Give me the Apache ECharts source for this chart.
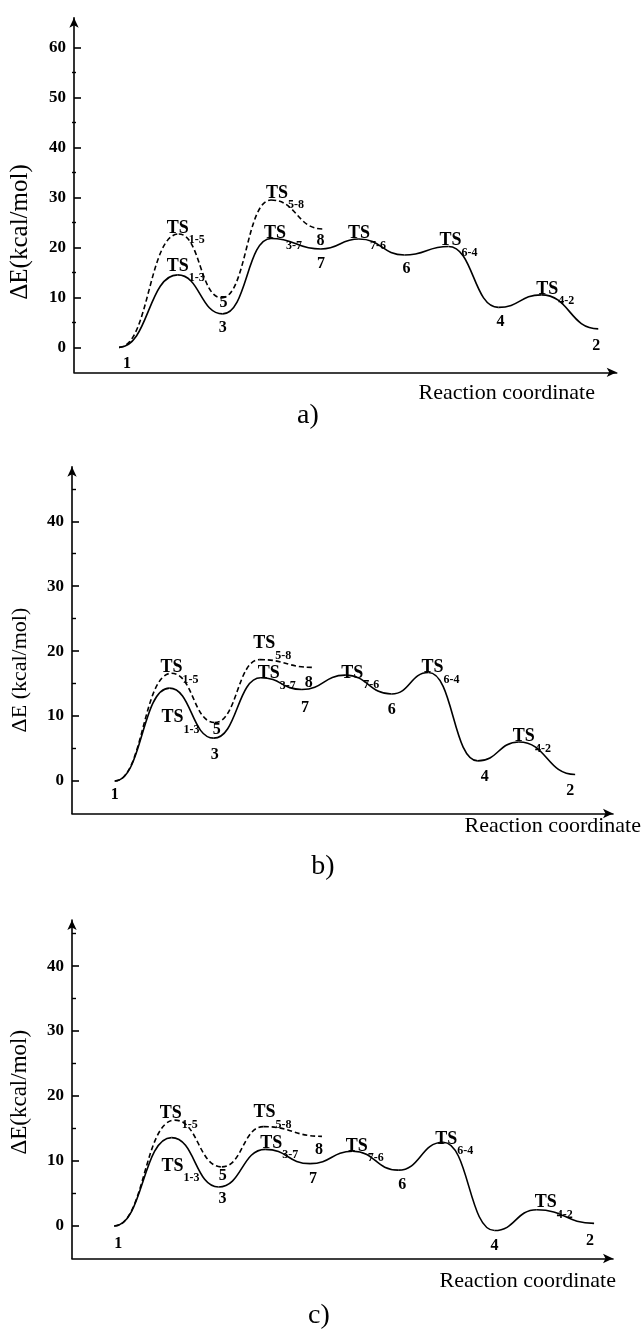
<!DOCTYPE html>
<html>
<head>
<meta charset="utf-8">
<script src="https://cdn.jsdelivr.net/npm/echarts@6/dist/echarts.min.js"></script>
<style>
  html, body { margin: 0; padding: 0; background: #fff; }
  #chart { width: 642px; height: 1330px; }
</style>
</head>
<body>
<div id="chart"></div>
<script>
// stationary points along the reaction coordinate (arbitrary units 0-100)
const solidNames = ['1', 'TS1-3', '3', 'TS3-7', '7', 'TS7-6', '6', 'TS6-4', '4', 'TS4-2', '2'];
const dashNames = ['1', 'TS1-5', '5', 'TS5-8', '8'];

// a)
const aSolidX = [8.3, 19.1, 27.4, 36.3, 45.5, 52.5, 60.9, 69.0, 78.2, 86.1, 96.6];
const aSolidE = [0, 14.5, 6.7, 21.8, 19.7, 21.7, 18.5, 20.2, 8.0, 10.5, 3.7];
const aDashX = [8.3, 19.3, 27.2, 36.3, 45.8];
const aDashE = [0, 22.7, 9.9, 29.5, 23.7];

// b)
const bSolidX = [7.9, 18.0, 26.2, 34.9, 42.5, 50.5, 59.1, 65.9, 75.0, 82.6, 93.0];
const bSolidE = [0, 14.3, 6.6, 15.9, 14.1, 16.3, 13.4, 16.7, 3.1, 6.0, 1.0];
const bDashX = [7.9, 18.4, 26.4, 34.7, 44.5];
const bDashE = [0, 16.6, 9.0, 18.7, 17.5];

// c)
const cSolidX = [7.8, 18.4, 27.1, 35.7, 44.0, 51.9, 60.3, 68.6, 78.1, 85.9, 96.5];
const cSolidE = [0, 13.6, 6.0, 11.8, 9.6, 11.5, 8.6, 12.9, -0.7, 2.5, 0.4];
const cDashX = [7.8, 19.0, 27.7, 35.4, 46.2];
const cDashE = [0, 16.3, 9.1, 15.3, 13.8];

// y tick labels
const aTicks = [0, 10, 20, 30, 40, 50, 60];
const aMinor = [5, 15, 25, 35, 45, 55];
const bcTicks = [0, 10, 20, 30, 40];
const bcMinor = [5, 15, 25, 35, 45];

const FONT = '"Liberation Serif", "Times New Roman", serif';
const SMOOTH = 0.5;  // control arm as part of segment width, tangents flat at every point

// label offsets (px) from each point
const offA = {
  '1': [8, 17], 'TS1-3': [-11, -9], '3': [0, 14], 'TS3-7': [-7, -5], '7': [0, 15],
  'TS7-6': [-11, -5.5], '6': [2, 14], 'TS6-4': [-9, -6], '4': [2, 14], 'TS4-2': [-5, -5.5],
  '2': [-2, 17], 'TS1-5': [-12, -6], '5': [2, 5], 'TS5-8': [-5, -7], '8': [-2, 12]
};
const offB = {
  '1': [0, 14], 'TS1-3': [-8, 29.5], '3': [1, 17], 'TS3-7': [-3, -4], '7': [3, 18],
  'TS7-6': [-4, -2], '6': [0, 16], 'TS6-4': [-7, -5], '4': [7, 16], 'TS4-2': [-6, -5.5],
  '2': [-5, 16], 'TS1-5': [-11, -5.5], '5': [2, 7.5], 'TS5-8': [-6.5, -16], '8': [-4, 15]
};
const offC = {
  '1': [4, 18], 'TS1-3': [-10, 28.5], '3': [4, 12], 'TS3-7': [-5, -6.5], '7': [3, 15],
  'TS7-6': [-7, -5], '6': [4, 15], 'TS6-4': [-8, -3], '4': [0, 15], 'TS4-2': [-2, -7],
  '2': [-4, 17], 'TS1-5': [-15, -7], '5': [1, 9], 'TS5-8': [-10, -14], '8': [-3, 14]
};

const rich = {
  t: { fontFamily: FONT, fontSize: 18, fontWeight: 'bold', color: '#000', lineHeight: 18, verticalAlign: 'top' },
  s: { fontFamily: FONT, fontSize: 12, fontWeight: 'bold', color: '#000', lineHeight: 12, padding: [15, 0, 0, 0], verticalAlign: 'top' },
  n: { fontFamily: FONT, fontSize: 16, fontWeight: 'bold', color: '#000' }
};

function makeLabel(name, off, hide) {
  if (hide) return { show: false };
  const isTS = name.indexOf('TS') === 0;
  return {
    show: true,
    position: 'inside',
    align: isTS ? 'left' : 'center',
    verticalAlign: 'middle',
    offset: off,
    opacity: 1,
    formatter: isTS ? '{t|TS}{s|' + name.slice(2) + '}' : '{n|' + name + '}',
    rich: rich
  };
}

// energy profile: one cubic per segment, flat at both stationary points
function curve(gi, xs, es, dashed) {
  const segs = xs.slice(1).map((x, i) => [xs[i], es[i], x, es[i + 1]]);
  return {
    type: 'custom',
    xAxisIndex: gi,
    yAxisIndex: gi,
    encode: { x: [0, 2], y: [1, 3] },
    data: segs,
    z: dashed ? 3 : 2,
    renderItem: function (params, api) {
      const p0 = api.coord([api.value(0), api.value(1)]);
      const p1 = api.coord([api.value(2), api.value(3)]);
      const h = (p1[0] - p0[0]) * SMOOTH;
      return {
        type: 'bezierCurve',
        shape: { x1: p0[0], y1: p0[1], x2: p1[0], y2: p1[1],
          cpx1: p0[0] + h, cpy1: p0[1], cpx2: p1[0] - h, cpy2: p1[1] },
        style: { stroke: '#000', fill: 'none', lineWidth: 1.6, lineDash: dashed ? [5, 3] : null }
      };
    }
  };
}

// invisible points that carry the labels
function labels(gi, xs, es, names, offs, skipFirst) {
  return {
    type: 'scatter',
    xAxisIndex: gi,
    yAxisIndex: gi,
    symbolSize: 1,
    itemStyle: { color: 'rgba(0,0,0,0)', opacity: 1 },
    z: 5,
    data: xs.map((x, i) => ({
      value: [x, es[i]],
      label: makeLabel(names[i], offs[names[i]], skipFirst && i === 0)
    }))
  };
}

// panel layout
const panels = [
  { top: 17.7, height: 354.6, width: 544.7, max: 66, ticks: aTicks, minor: aMinor,
    yName: 'ΔE(kcal/mol)', yNameSize: 25, yNamePad: 74, xGap: -21.7, xPad: 9.5 },
  { top: 466.7, height: 346.8, width: 541, max: 48.4, ticks: bcTicks, minor: bcMinor,
    yName: 'ΔE (kcal/mol)', yNameSize: 22, yNamePad: 60, xGap: 28, xPad: 2 },
  { top: 920, height: 338.5, width: 541, max: 47.1, ticks: bcTicks, minor: bcMinor,
    yName: 'ΔE(kcal/mol)', yNameSize: 23, yNamePad: 6, xGap: 3, xPad: 12 }
];

const grid = [], xAxis = [], yAxis = [];
// main grids 0..2
panels.forEach((p, i) => {
  grid.push({ left: 72, top: p.top, width: p.width, height: p.height });
  xAxis.push({
    type: 'value', gridIndex: i, min: 0, max: 100,
    axisLine: { show: true, onZero: false, symbol: ['none', 'arrow'], symbolSize: [7, 10],
      lineStyle: { color: '#000', width: 1.6 } },
    axisTick: { show: false }, axisLabel: { show: false }, splitLine: { show: false },
    name: 'Reaction coordinate', nameLocation: 'end', nameGap: p.xGap,
    nameTextStyle: { fontFamily: FONT, fontSize: 22, color: '#000', align: 'right',
      verticalAlign: 'top', padding: [p.xPad, 0, 0, 0] }
  });
  yAxis.push({
    type: 'value', gridIndex: i, min: -5, max: p.max,
    axisLine: { show: true, onZero: false, symbol: ['none', 'arrow'], symbolSize: [7, 10],
      lineStyle: { color: '#000', width: 1.6 } },
    axisTick: { show: true, inside: true, length: 7, customValues: p.ticks,
      lineStyle: { color: '#000', width: 1.6 } },
    axisLabel: { show: true, customValues: p.ticks, margin: 8, fontFamily: FONT,
      fontSize: 17, fontWeight: 'bold', color: '#000' },
    splitLine: { show: false },
    name: p.yName, nameLocation: 'middle', nameGap: 41,
    nameTextStyle: { fontFamily: FONT, fontSize: p.yNameSize, color: '#000',
      padding: [0, p.yNamePad, 0, 0] }
  });
});
// twin grids 3..5 carry only the minor ticks
panels.forEach((p, i) => {
  grid.push({ left: 72, top: p.top, width: p.width, height: p.height });
  xAxis.push({ type: 'value', gridIndex: 3 + i, min: 0, max: 100, show: false });
  yAxis.push({
    type: 'value', gridIndex: 3 + i, min: -5, max: p.max,
    axisLine: { show: false },
    axisTick: { show: true, inside: true, length: 4, customValues: p.minor,
      lineStyle: { color: '#000', width: 1.4 } },
    axisLabel: { show: false }, splitLine: { show: false }
  });
});

const myChart = echarts.init(document.getElementById('chart'));
myChart.setOption({
  backgroundColor: '#fff',
  animation: false,
  grid: grid,
  xAxis: xAxis,
  yAxis: yAxis,
  graphic: [
    { type: 'text', x: 308, y: 416, style: { text: 'a)', font: '28px ' + FONT, fill: '#000', align: 'center', verticalAlign: 'middle' } },
    { type: 'text', x: 323, y: 867, style: { text: 'b)', font: '28px ' + FONT, fill: '#000', align: 'center', verticalAlign: 'middle' } },
    { type: 'text', x: 319, y: 1316, style: { text: 'c)', font: '28px ' + FONT, fill: '#000', align: 'center', verticalAlign: 'middle' } }
  ],
  series: [
    curve(0, aSolidX, aSolidE, false),
    curve(0, aDashX, aDashE, true),
    labels(0, aSolidX, aSolidE, solidNames, offA, false),
    labels(0, aDashX, aDashE, dashNames, offA, true),
    curve(1, bSolidX, bSolidE, false),
    curve(1, bDashX, bDashE, true),
    labels(1, bSolidX, bSolidE, solidNames, offB, false),
    labels(1, bDashX, bDashE, dashNames, offB, true),
    curve(2, cSolidX, cSolidE, false),
    curve(2, cDashX, cDashE, true),
    labels(2, cSolidX, cSolidE, solidNames, offC, false),
    labels(2, cDashX, cDashE, dashNames, offC, true)
  ]
});
</script>
</body>
</html>
